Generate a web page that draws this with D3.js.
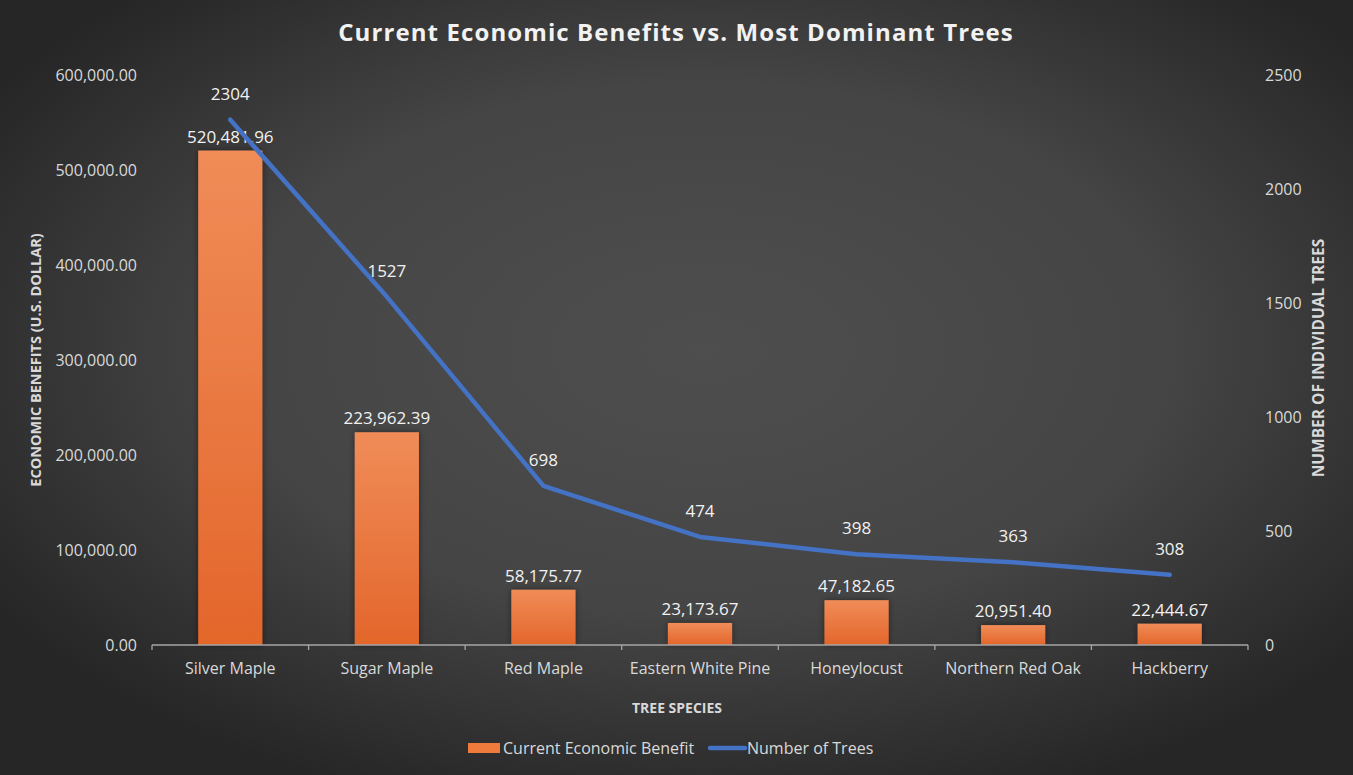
<!DOCTYPE html>
<html>
<head>
<meta charset="utf-8">
<script src="https://cdn.jsdelivr.net/npm/d3@7"></script>
<style>
  html, body { margin: 0; padding: 0; background: #2b2b2b; }
  svg { display: block; }
  text { font-family: "Open Sans", "Noto Sans", sans-serif; }
</style>
</head>
<body>
<svg id="chart" width="1353" height="775"></svg>
<script>
// Tree species and their values
const species = ["Silver Maple", "Sugar Maple", "Red Maple", "Eastern White Pine", "Honeylocust", "Northern Red Oak", "Hackberry"];
const economicBenefit = [520481.96, 223962.39, 58175.77, 23173.67, 47182.65, 20951.40, 22444.67];
const treeCount = [2304, 1527, 698, 474, 398, 363, 308];
const leftTicks = [0, 100000, 200000, 300000, 400000, 500000, 600000];
const rightTicks = [0, 500, 1000, 1500, 2000, 2500];

const W = 1353, H = 775;
const margin = { left: 152, right: 1248, top: 75, bottom: 645 };

const svg = d3.select("#chart");
const defs = svg.append("defs");

// Dark radial backdrop
const bg = defs.append("radialGradient").attr("id", "bgGrad")
  .attr("cx", "52%").attr("cy", "45%").attr("r", "62%");
bg.append("stop").attr("offset", "0%").attr("stop-color", "#4e4e4e");
bg.append("stop").attr("offset", "55%").attr("stop-color", "#454545");
bg.append("stop").attr("offset", "100%").attr("stop-color", "#262626");
svg.append("rect").attr("width", W).attr("height", H).attr("fill", "url(#bgGrad)");

// Bar fill: lighter at top, deeper orange at bottom
const barGrad = defs.append("linearGradient").attr("id", "barGrad")
  .attr("x1", 0).attr("y1", 0).attr("x2", 0).attr("y2", 1);
barGrad.append("stop").attr("offset", "0%").attr("stop-color", "#f08c58");
barGrad.append("stop").attr("offset", "100%").attr("stop-color", "#e3662b");

const shadow = defs.append("filter").attr("id", "barShadow")
  .attr("x", "-20%").attr("y", "-20%").attr("width", "140%").attr("height", "140%");
shadow.append("feDropShadow").attr("dx", 0).attr("dy", 0).attr("stdDeviation", 3)
  .attr("flood-color", "#000").attr("flood-opacity", 0.45);

const x = d3.scaleBand().domain(species).range([margin.left, margin.right]).paddingInner(0.59).paddingOuter(0.295);
const xEdges = d3.scaleBand().domain(species).range([margin.left, margin.right]).padding(0);
const yL = d3.scaleLinear().domain([0, 600000]).range([margin.bottom, margin.top]);
const yR = d3.scaleLinear().domain([0, 2500]).range([margin.bottom, margin.top]);

const tickColor = "#d9d9d9";
const fmt2 = d3.format(",.2f");

// Left axis labels
svg.append("g").selectAll("text").data(leftTicks).join("text")
  .attr("x", 137).attr("y", d => yL(d)).attr("dy", "0.35em")
  .attr("text-anchor", "end").attr("fill", tickColor).attr("font-size", 16)
  .text(d => fmt2(d));

// Right axis labels
svg.append("g").selectAll("text").data(rightTicks).join("text")
  .attr("x", 1265).attr("y", d => yR(d)).attr("dy", "0.35em")
  .attr("text-anchor", "start").attr("fill", tickColor).attr("font-size", 16)
  .text(d => d);

// Bars
svg.append("g").selectAll("rect").data(species).join("rect")
  .attr("x", d => x(d)).attr("width", x.bandwidth())
  .attr("y", (d, i) => yL(economicBenefit[i]))
  .attr("height", (d, i) => yL(0) - yL(economicBenefit[i]))
  .attr("fill", "url(#barGrad)").attr("filter", "url(#barShadow)");

// Category axis
const xAxis = svg.append("g");
xAxis.append("line").attr("x1", margin.left).attr("x2", margin.right)
  .attr("y1", margin.bottom).attr("y2", margin.bottom)
  .attr("stroke", "#a6a6a6").attr("stroke-width", 1.3);
const edges = species.map(s => xEdges(s)).concat([margin.right]);
xAxis.selectAll("line.tick").data(edges).join("line").attr("class", "tick")
  .attr("x1", d => d).attr("x2", d => d).attr("y1", margin.bottom).attr("y2", margin.bottom + 5)
  .attr("stroke", "#a6a6a6").attr("stroke-width", 1.3);
xAxis.selectAll("text").data(species).join("text")
  .attr("x", d => x(d) + x.bandwidth() / 2).attr("y", 674)
  .attr("text-anchor", "middle").attr("fill", tickColor).attr("font-size", 16)
  .text(d => d);

// Bar value labels
svg.append("g").selectAll("text").data(species).join("text")
  .attr("x", d => x(d) + x.bandwidth() / 2)
  .attr("y", (d, i) => yL(economicBenefit[i]) - 8)
  .attr("text-anchor", "middle").attr("fill", "#f2f2f2").attr("font-size", 17)
  .text((d, i) => fmt2(economicBenefit[i]));

// Tree count line
const cx = d => x(d) + x.bandwidth() / 2;
const line = d3.line().x((d, i) => cx(species[i])).y(d => yR(d));
svg.append("path").datum(treeCount)
  .attr("d", line).attr("fill", "none")
  .attr("stroke", "#4472c4").attr("stroke-width", 4.5)
  .attr("stroke-linecap", "round").attr("stroke-linejoin", "round");

// Line value labels
svg.append("g").selectAll("text").data(treeCount).join("text")
  .attr("x", (d, i) => cx(species[i])).attr("y", d => yR(d) - 20)
  .attr("text-anchor", "middle").attr("fill", "#f2f2f2").attr("font-size", 17)
  .text(d => d);

// Title
svg.append("text").attr("x", 676).attr("y", 41).attr("text-anchor", "middle")
  .attr("fill", "#f2f2f2").attr("font-size", 24).attr("font-weight", 700)
  .attr("letter-spacing", "1.1px")
  .text("Current Economic Benefits vs. Most Dominant Trees");

// Axis titles
svg.append("text").attr("transform", "translate(41,360) rotate(-90)")
  .attr("text-anchor", "middle").attr("fill", "#d9d9d9").attr("font-size", 14.5).attr("font-weight", 700)
  .text("ECONOMIC BENEFITS (U.S. DOLLAR)");
svg.append("text").attr("transform", "translate(1324,358) rotate(-90)")
  .attr("text-anchor", "middle").attr("fill", "#d9d9d9").attr("font-size", 15.5).attr("font-weight", 700)
  .text("NUMBER OF INDIVIDUAL TREES");
svg.append("text").attr("x", 677).attr("y", 713).attr("text-anchor", "middle")
  .attr("fill", "#d9d9d9").attr("font-size", 14).attr("font-weight", 700)
  .text("TREE SPECIES");

// Legend
const legend = svg.append("g");
legend.append("rect").attr("x", 468).attr("y", 743).attr("width", 32).attr("height", 10).attr("fill", "#ee7a3c");
legend.append("text").attr("x", 503).attr("y", 754).attr("fill", "#d9d9d9").attr("font-size", 16)
  .text("Current Economic Benefit");
legend.append("line").attr("x1", 710).attr("x2", 745).attr("y1", 748).attr("y2", 748)
  .attr("stroke", "#4472c4").attr("stroke-width", 4.5).attr("stroke-linecap", "round");
legend.append("text").attr("x", 747).attr("y", 754).attr("fill", "#d9d9d9").attr("font-size", 16)
  .text("Number of Trees");
</script>
</body>
</html>
